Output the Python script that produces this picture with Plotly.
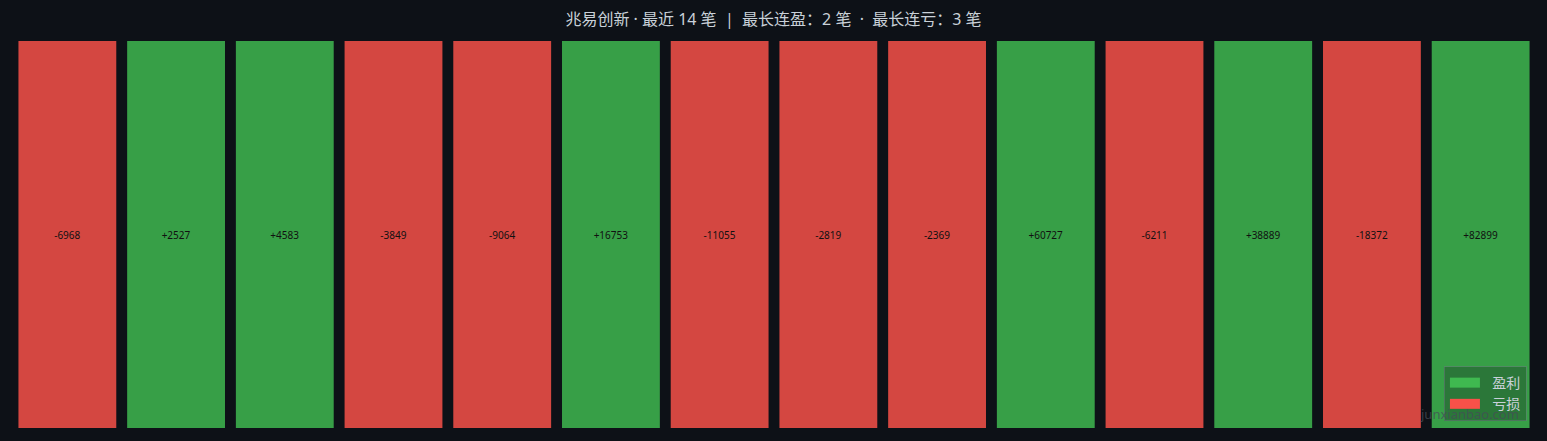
import plotly.graph_objects as go

# 最近 14 笔交易的盈亏
trade_no = list(range(1, 15))
pnl = [-6968, 2527, 4583, -3849, -9064, 16753, -11055, -2819, -2369, 60727, -6211, 38889, -18372, 82899]

NB = "\u00a0"
title_text = f"兆易创新 · 最近 14 笔{NB}{NB}|{NB}{NB}最长连盈：2 笔{NB}{NB}·{NB}{NB}最长连亏：3 笔"

GREEN = "#3fb950"
RED = "#f85149"
BG = "#0d1117"
FONT = "Noto Sans, Noto Sans CJK SC, sans-serif"

colors = [GREEN if v > 0 else RED for v in pnl]
labels = [f"{v:+d}" for v in pnl]

fig = go.Figure()

fig.add_trace(go.Bar(
    x=trade_no,
    y=[1] * len(pnl),
    marker=dict(color=colors, opacity=0.85, line=dict(width=0)),
    text=labels,
    textposition="inside",
    insidetextanchor="middle",
    textangle=0,
    textfont=dict(size=10, color="#111111", family=FONT),
    customdata=pnl,
    hovertemplate="第 %{x} 笔<br>盈亏: %{customdata:+d}<extra></extra>",
    showlegend=False,
))

# 图例用的占位线条
for name, col in [("盈利", GREEN), ("亏损", RED)]:
    fig.add_trace(go.Scatter(
        x=[None], y=[None], mode="lines", name=NB + NB + name, legendgroup=name,
        line=dict(color=col, width=12),
    ))

# 水印
fig.add_annotation(
    text="junxianbao.com", xref="paper", yref="paper",
    x=0.991, y=0.036, xanchor="right", yanchor="middle",
    showarrow=False, font=dict(size=13, color="rgba(70,76,88,0.75)", family=FONT),
)

fig.update_layout(
    width=1547,
    height=441,
    title=dict(text=title_text, x=0.5, xanchor="center", y=0.955, yanchor="middle",
               font=dict(size=16, color="#c9d1d9", family=FONT)),
    paper_bgcolor=BG,
    plot_bgcolor=BG,
    bargap=0.1,
    margin=dict(l=13, r=12, t=41, b=13),
    xaxis=dict(visible=False, range=[0.5, 14.5]),
    yaxis=dict(visible=False, range=[0, 1]),
    legend=dict(
        x=0.9947, y=0.018, xanchor="right", yanchor="bottom",
        bgcolor="rgba(13,17,23,0.28)", bordercolor="rgba(110,118,129,0.5)", borderwidth=1,
        font=dict(size=14, color="#c9d1d9", family=FONT),
        traceorder="normal", tracegroupgap=2,
    ),
    font=dict(family=FONT),
)

# 去掉页面边距，并把水印放到图例上层
post = (
    "document.body.style.margin='0';"
    "document.body.style.background='#0d1117';"
    "var a=document.querySelector('.infolayer .annotation');"
    "if(a){a.parentNode.appendChild(a);}"
)

fig.write_html("out.html", config={"displayModeBar": False}, post_script=post)
